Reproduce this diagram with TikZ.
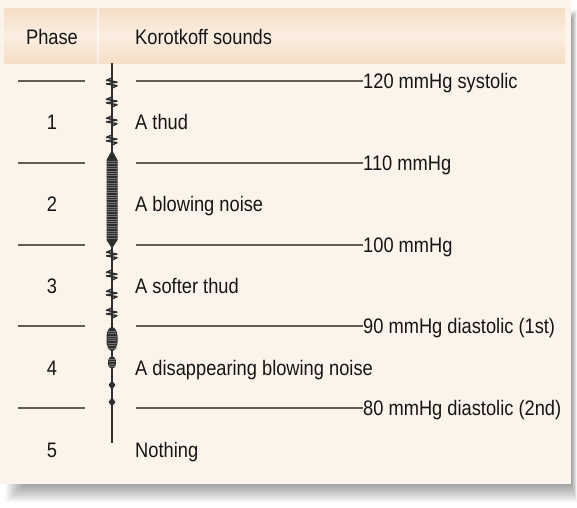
\documentclass[tikz,border=0pt]{standalone}
\usepackage{fontspec}
\setmainfont{Liberation Sans}[FakeStretch=0.87]
\definecolor{panelc}{HTML}{FCF4EB}
\definecolor{hdrc}{HTML}{F6DEC6}
\definecolor{hdrmid}{HTML}{FBEEE2}
\definecolor{textc}{HTML}{151515}
\definecolor{rulec}{HTML}{625C57}
\definecolor{wavec}{HTML}{2E2E2E}
\definecolor{stripec}{HTML}{77726D}
\begin{document}
\begin{tikzpicture}[x=1pt,y=-1pt,
  txt/.style={text=textc, font=\fontsize{21}{24}\selectfont, inner sep=0pt},
  rule/.style={draw=rulec, line width=1.4pt},
  wave/.style={draw=wavec, line width=1.4pt},
  thud/.style={draw=wavec, line width=1.5pt, line join=round, line cap=round},
  stripe/.style={draw=stripec, line width=0.55pt}]
\useasboundingbox (0,0) rectangle (577,507);
\fill[white] (0,0) rectangle (577,507);
% shadow
\foreach \i in {0,...,9}
  \fill[black, opacity=0.045] (6+2*\i,10+\i) rectangle (577-0.6*\i,502-2*\i);
% panel
\fill[panelc] (0,0) rectangle (571,484);
% header band
\shade[top color=hdrc, bottom color=hdrc, middle color=hdrmid] (4,8) rectangle (565,63);
\draw[white, opacity=0.6, line width=1.2pt] (98,8) -- (98,63);
\node[txt, anchor=base] (hphase) at (52,44) {Phase};
\node[txt, anchor=base west] (hkor) at (135,44) {Korotkoff sounds};
% rows
\foreach \n/\y/\lab in {1/81/{120 mmHg systolic}, 2/163/{110 mmHg}, 3/245/{100 mmHg}, 4/326/{90 mmHg diastolic (1st)}, 5/408/{80 mmHg diastolic (2nd)}}{
  \coordinate (la\n) at (18,\y);
  \coordinate (lb\n) at (85,\y);
  \coordinate (ra\n) at (136,\y);
  \node[txt, anchor=base west] (lab\n) at (363,\y+7.5) {\lab};
  \draw[rule] (la\n) -- (lb\n);
  \draw[rule] (ra\n) -- (ra\n -| lab\n.west);
}
\foreach \n/\y/\d in {1/122/{A thud}, 2/204/{A blowing noise}, 3/286/{A softer thud}, 4/368/{A disappearing blowing noise}, 5/450/{Nothing}}{
  \node[txt, anchor=base] (ph\n) at (52,\y+7.5) {\n};
  \node[txt, anchor=base west] (ds\n) at (135,\y+7.5) {\d};
}
% waveform
\coordinate (wtop) at (112,63);
\coordinate (wbot) at (112,443);
\draw[wave] (wtop) -- (wbot);
\foreach \y in {83,102,121,140,255,275,294,313}
  \draw[thud] (112,\y-5) -- (106.5,\y-2.7) -- (117,\y-0.9) -- (106.5,\y+0.9) -- (117,\y+2.7) -- (112,\y+5);
% blowing block
\fill[wavec] (111,152) -- (113,152) -- (117.5,160) -- (117.5,240) -- (113,247) -- (111,247) -- (106.5,240) -- (106.5,160) -- cycle;
\foreach \yy in {161.2,163.6,...,239} \draw[stripe] (107.4,\yy) -- (116.6,\yy);
% phase 4 bulges
\begin{scope}
  \fill[wavec] (112,327) .. controls (115,327) and (117.5,332) .. (117.5,336) -- (117.5,342) .. controls (117.5,346) and (115,351) .. (112,351) .. controls (109,351) and (106.5,346) .. (106.5,342) -- (106.5,336) .. controls (106.5,332) and (109,327) .. (112,327) -- cycle;
  \clip (107.5,330) rectangle (116.5,349);
  \foreach \yy in {331,333.4,...,349} \draw[stripe] (106,\yy) -- (118,\yy);
\end{scope}
\begin{scope}
  \fill[wavec] (112,356) .. controls (114.5,356) and (116,359) .. (116,362.5) .. controls (116,366) and (114.5,369) .. (112,369) .. controls (109.5,369) and (108,366) .. (108,362.5) .. controls (108,359) and (109.5,356) .. (112,356) -- cycle;
  \clip (108.8,358) rectangle (115.2,367.5);
  \foreach \yy in {359.2,361.6,...,368} \draw[stripe] (108,\yy) -- (116,\yy);
\end{scope}
\foreach \y in {385,402}
  \fill[wavec] (112,\y-4.5) -- (115.5,\y) -- (112,\y+4.5) -- (108.5,\y) -- cycle;
\end{tikzpicture}
\end{document}
